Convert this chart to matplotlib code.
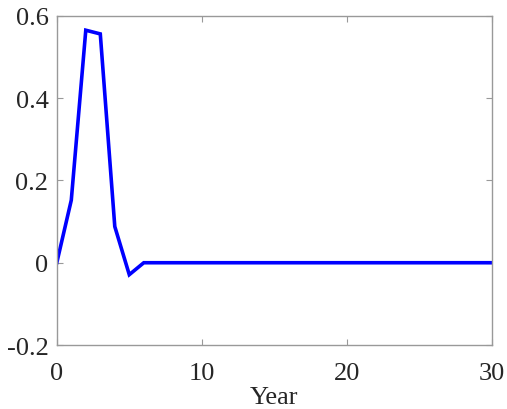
import matplotlib
matplotlib.use("Agg")
import matplotlib.pyplot as plt

years = list(range(0, 31))
values = [0.0, 0.152, 0.565, 0.556, 0.088, -0.029] + [0.0] * 25
xticks = [0, 10, 20, 30]
yticks = [-0.2, 0, 0.2, 0.4, 0.6]
ytick_labels = ["-0.2", "0", "0.2", "0.4", "0.6"]

plt.rcParams['font.family'] = ['Liberation Serif', 'DejaVu Serif']

fig = plt.figure(figsize=(5.07, 4.10), dpi=100)
ax = fig.add_axes([0.112, 0.156, 0.858, 0.803])
ax.plot(years, values, color=(0, 0, 1), linewidth=2.6, solid_joinstyle='miter')
ax.set_xlim(0, 30)
ax.set_ylim(-0.2, 0.6)
ax.set_xticks(xticks)
ax.set_xticklabels([str(t) for t in xticks])
ax.set_yticks(yticks)
ax.set_yticklabels(ytick_labels)
ax.tick_params(direction='in', length=4, width=0.8, color='#999999',
               top=True, right=True, labelsize=19, labelcolor='#262626')
ax.tick_params(axis='y', pad=6)
ax.tick_params(axis='x', pad=12)
for s in ax.spines.values():
    s.set_color('#999999')
    s.set_linewidth(1.0)
ax.set_xlabel("Year", fontsize=19, color='#262626', labelpad=2)
fig.savefig("out.png", dpi=100, facecolor='white')
